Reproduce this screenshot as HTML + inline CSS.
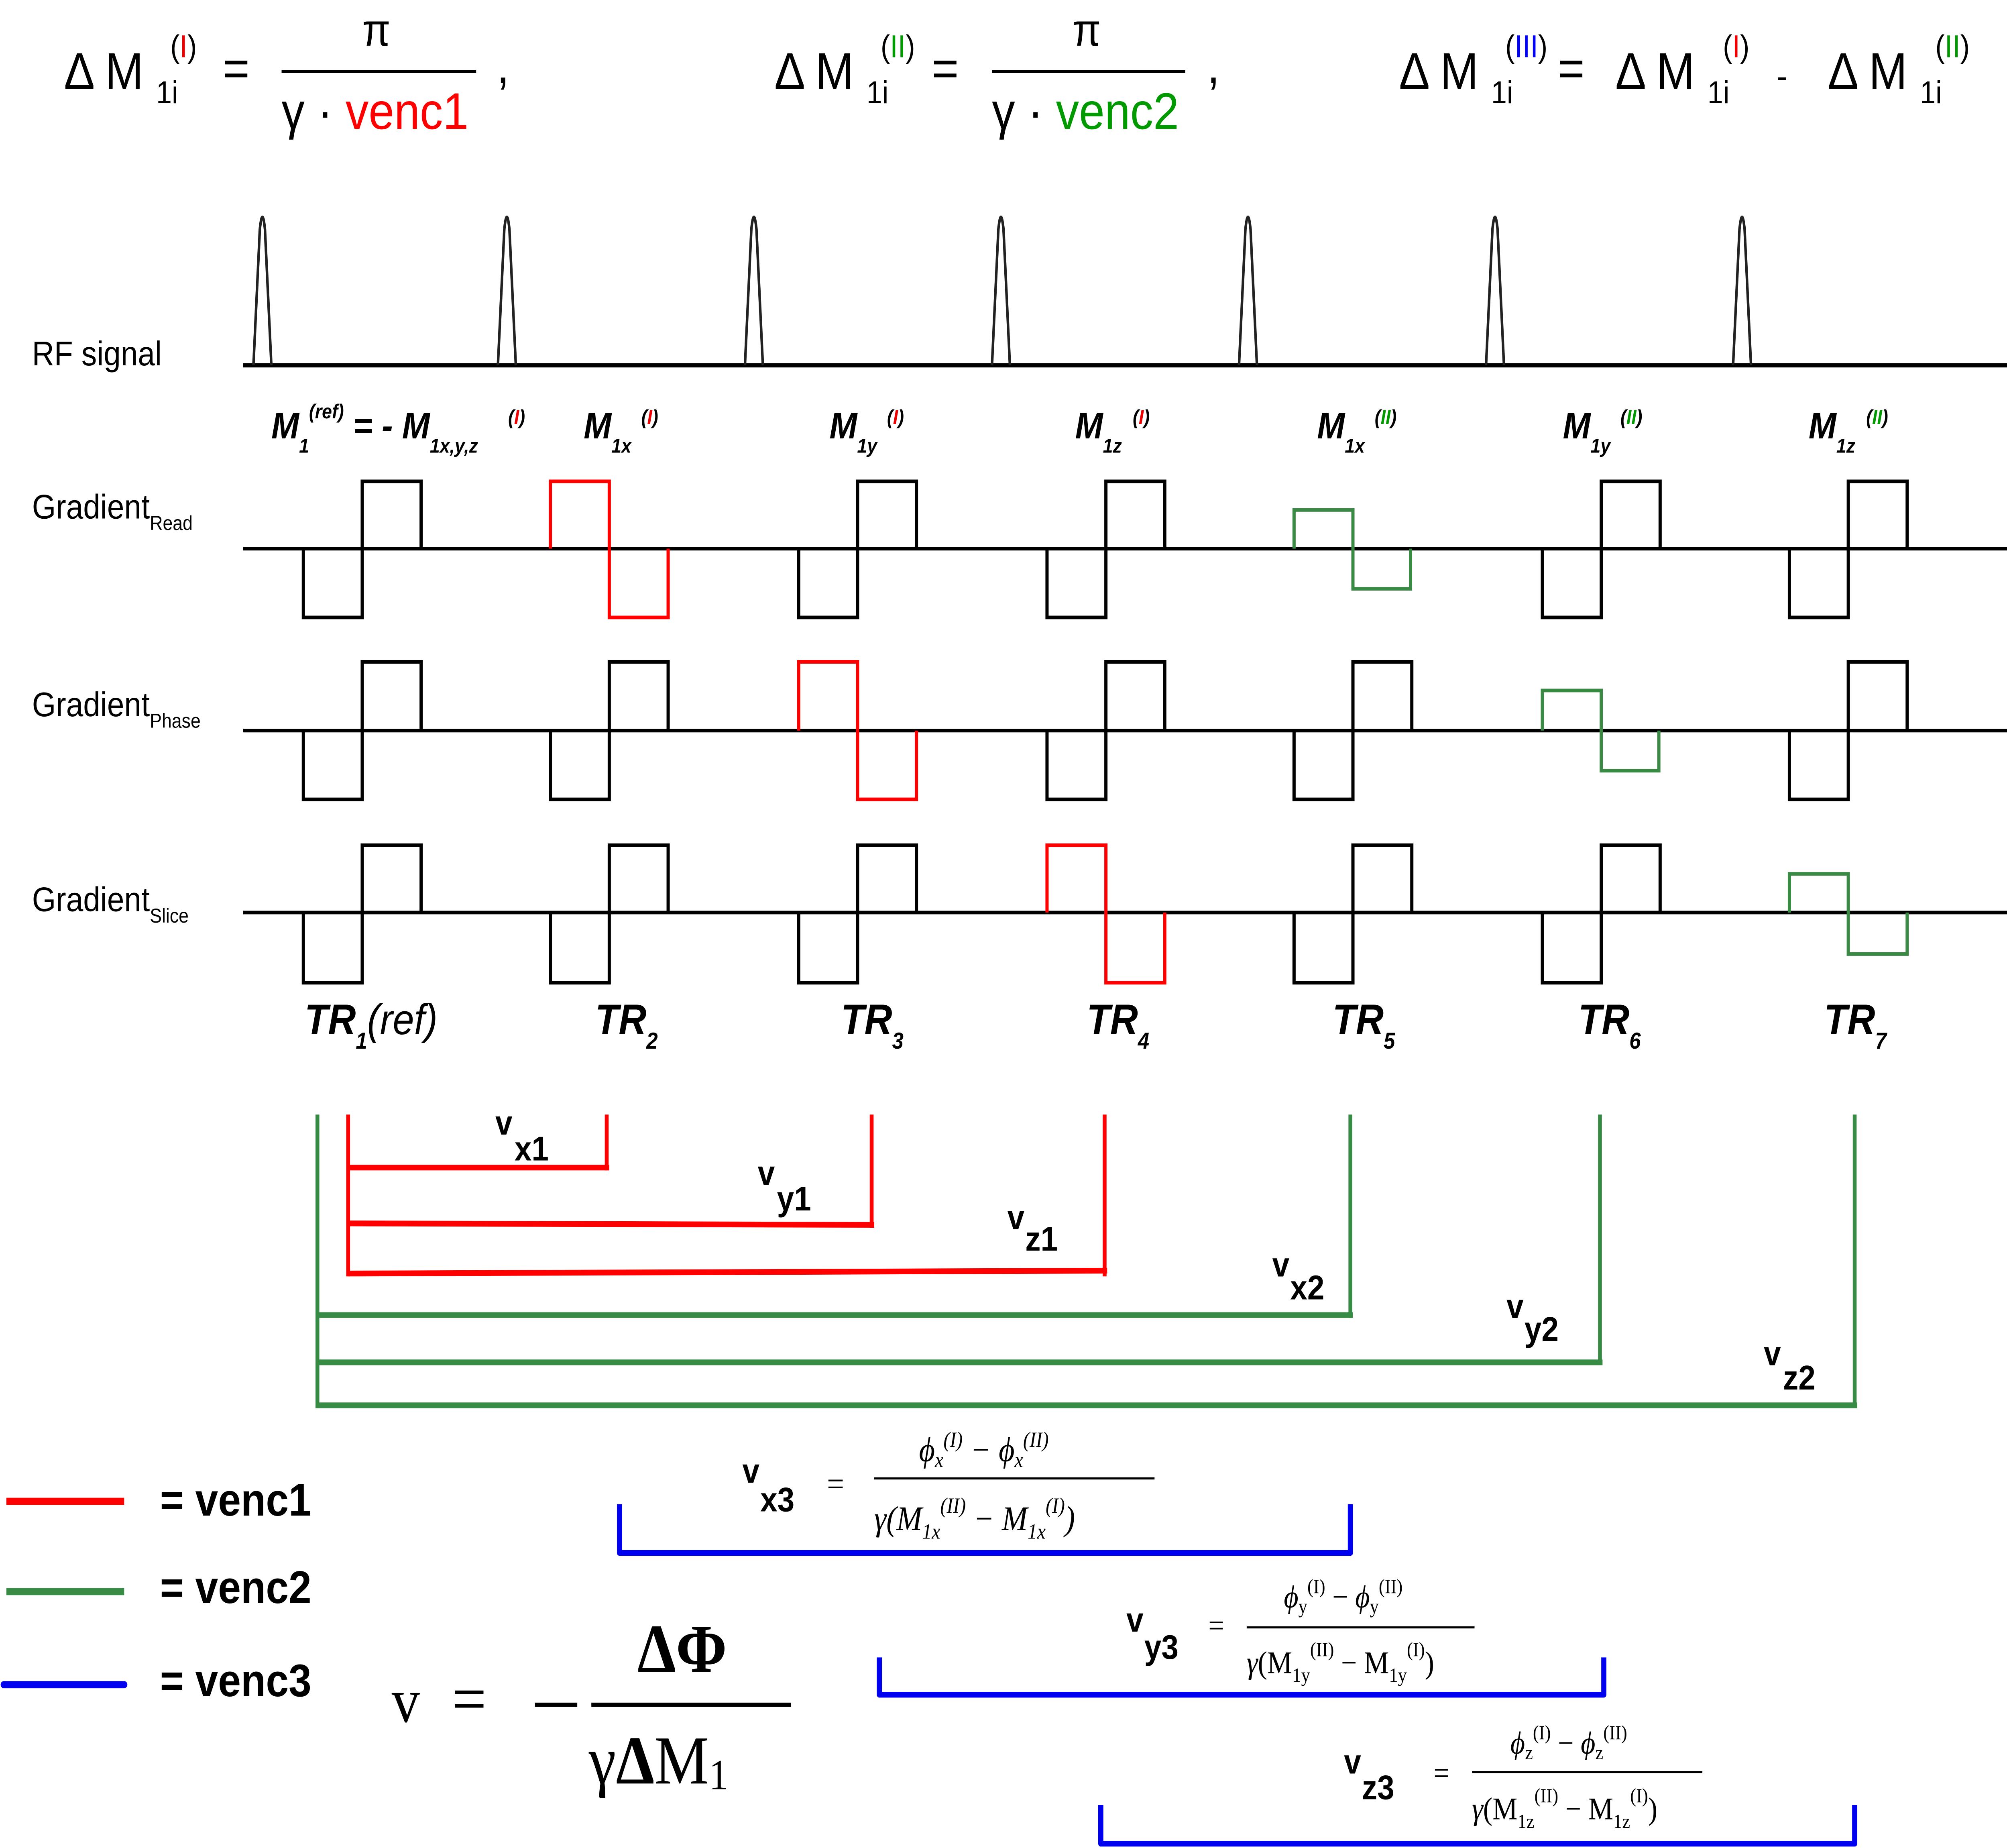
<!DOCTYPE html>
<html><head><meta charset="utf-8"><style>
html,body{margin:0;padding:0;background:#fff;overflow:hidden;width:100%;height:100%;}
svg{display:block;position:fixed;left:0;top:0;width:100vw;height:100vh;}
text{font-family:"Liberation Sans","DejaVu Sans",sans-serif;}
.s{font-family:"Liberation Serif","DejaVu Serif",serif;}
</style></head><body>
<svg viewBox="0 0 1568 1290" preserveAspectRatio="none" xmlns="http://www.w3.org/2000/svg">
<rect width="1568" height="1290" fill="#fff"/>
<g font-size="36" fill="#000">
 <text x="50" y="62">Δ M</text><text x="122" y="72" font-size="22">1i</text>
 <text x="133" y="40" font-size="22">(<tspan fill="#e00">I</tspan>)</text>
 <text x="174" y="60">=</text>
 <text x="283" y="32" font-size="32">π</text>
 <line x1="220" y1="50" x2="372" y2="50" stroke="#000" stroke-width="2"/>
 <text x="220" y="90">γ · <tspan fill="#f00">venc1</tspan></text>
 <text x="388" y="58">,</text>

 <text x="605" y="62">Δ M</text><text x="677" y="72" font-size="22">1i</text>
 <text x="688" y="40" font-size="22">(<tspan fill="#090">II</tspan>)</text>
 <text x="728" y="60">=</text>
 <text x="838" y="32" font-size="32">π</text>
 <line x1="775" y1="50" x2="926" y2="50" stroke="#000" stroke-width="2"/>
 <text x="775" y="90">γ · <tspan fill="#090">venc2</tspan></text>
 <text x="943" y="58">,</text>

 <text x="1093" y="62">Δ M</text><text x="1165" y="72" font-size="22">1i</text>
 <text x="1176" y="40" font-size="22">(<tspan fill="#00f">III</tspan>)</text>
 <text x="1217" y="60">=</text>
 <text x="1262" y="62">Δ M</text><text x="1334" y="72" font-size="22">1i</text>
 <text x="1346" y="40" font-size="22">(<tspan fill="#e00">I</tspan>)</text>
 <text x="1388" y="62" font-size="26">-</text>
 <text x="1428" y="62">Δ M</text><text x="1500" y="72" font-size="22">1i</text>
 <text x="1512" y="40" font-size="22">(<tspan fill="#090">II</tspan>)</text>
</g>
<text x="25" y="255" font-size="24">RF signal</text>
<line x1="190" y1="255" x2="1568" y2="255" stroke="#000" stroke-width="3"/>
<g fill="none" stroke="#222" stroke-width="2">
 <path d="M198 255 L203 160 Q205 143 207 160 L212 255"/>
 <path d="M389 255 L394 160 Q396 143 398 160 L403 255"/>
 <path d="M582 255 L587 160 Q589 143 591 160 L596 255"/>
 <path d="M775 255 L780 160 Q782 143 784 160 L789 255"/>
 <path d="M968 255 L973 160 Q975 143 977 160 L982 255"/>
 <path d="M1161 255 L1166 160 Q1168 143 1170 160 L1175 255"/>
 <path d="M1354 255 L1359 160 Q1361 143 1363 160 L1368 255"/>
</g>
<g font-size="26" font-weight="bold" font-style="italic">
 <text x="212" y="306">M<tspan font-size="14" dy="10">1</tspan><tspan font-size="14" dy="-24">(ref)</tspan><tspan dy="14" font-size="26"> = - M</tspan><tspan font-size="14" dy="10">1x,y,z</tspan></text>
 <text x="397" y="296" font-size="14">(<tspan fill="#e00">I</tspan>)</text>
 <text x="456" y="306">M<tspan font-size="14" dy="10">1x</tspan></text><text x="501" y="296" font-size="14">(<tspan fill="#e00">I</tspan>)</text>
 <text x="648" y="306">M<tspan font-size="14" dy="10">1y</tspan></text><text x="693" y="296" font-size="14">(<tspan fill="#e00">I</tspan>)</text>
 <text x="840" y="306">M<tspan font-size="14" dy="10">1z</tspan></text><text x="885" y="296" font-size="14">(<tspan fill="#e00">I</tspan>)</text>
 <text x="1029" y="306">M<tspan font-size="14" dy="10">1x</tspan></text><text x="1074" y="296" font-size="14">(<tspan fill="#090">II</tspan>)</text>
 <text x="1221" y="306">M<tspan font-size="14" dy="10">1y</tspan></text><text x="1266" y="296" font-size="14">(<tspan fill="#090">II</tspan>)</text>
 <text x="1413" y="306">M<tspan font-size="14" dy="10">1z</tspan></text><text x="1458" y="296" font-size="14">(<tspan fill="#090">II</tspan>)</text>
</g>
<g font-size="24">
 <text x="25" y="362">Gradient<tspan font-size="14" dy="8">Read</tspan></text>
 <text x="25" y="500">Gradient<tspan font-size="14" dy="8">Phase</tspan></text>
 <text x="25" y="636">Gradient<tspan font-size="14" dy="8">Slice</tspan></text>
</g>
<g stroke-width="2.5" fill="none" stroke="#000">
 <line x1="190" y1="383" x2="1568" y2="383"/>
 <line x1="190" y1="510" x2="1568" y2="510"/>
 <line x1="190" y1="637" x2="1568" y2="637"/>
 <path d="M237 383 V431 H283 V336 H329 V383"/>
 <path d="M430 383 V336 H476 V431 H522 V383" stroke="#f00"/>
 <path d="M624 383 V431 H670 V336 H716 V383"/>
 <path d="M818 383 V431 H864 V336 H910 V383"/>
 <path d="M1011 383 V356 H1057 V411 H1102 V383" stroke="#3a8a45"/>
 <path d="M1205 383 V431 H1251 V336 H1297 V383"/>
 <path d="M1398 383 V431 H1444 V336 H1490 V383"/>
 <path d="M237 510 V558 H283 V462 H329 V510"/>
 <path d="M430 510 V558 H476 V462 H522 V510"/>
 <path d="M624 510 V462 H670 V558 H716 V510" stroke="#f00"/>
 <path d="M818 510 V558 H864 V462 H910 V510"/>
 <path d="M1011 510 V558 H1057 V462 H1103 V510"/>
 <path d="M1205 510 V482 H1251 V538 H1296 V510" stroke="#3a8a45"/>
 <path d="M1398 510 V558 H1444 V462 H1490 V510"/>
 <path d="M237 637 V686 H283 V590 H329 V637"/>
 <path d="M430 637 V686 H476 V590 H522 V637"/>
 <path d="M624 637 V686 H670 V590 H716 V637"/>
 <path d="M818 637 V590 H864 V686 H910 V637" stroke="#f00"/>
 <path d="M1011 637 V686 H1057 V590 H1103 V637"/>
 <path d="M1205 637 V686 H1251 V590 H1297 V637"/>
 <path d="M1398 637 V610 H1444 V666 H1490 V637" stroke="#3a8a45"/>
</g>
<g font-size="30" font-style="italic" font-weight="bold">
 <text x="238" y="722">TR<tspan font-size="16" dy="10">1</tspan><tspan font-weight="normal" dy="-10" font-size="30">(ref)</tspan></text>
 <text x="465" y="722">TR<tspan font-size="16" dy="10">2</tspan></text>
 <text x="657" y="722">TR<tspan font-size="16" dy="10">3</tspan></text>
 <text x="849" y="722">TR<tspan font-size="16" dy="10">4</tspan></text>
 <text x="1041" y="722">TR<tspan font-size="16" dy="10">5</tspan></text>
 <text x="1233" y="722">TR<tspan font-size="16" dy="10">6</tspan></text>
 <text x="1425" y="722">TR<tspan font-size="16" dy="10">7</tspan></text>
</g>
<g stroke="#378b44" fill="none">
 <g stroke-width="3"><line x1="248" y1="778" x2="248" y2="983"/><line x1="1055" y1="778" x2="1055" y2="920"/><line x1="1250" y1="778" x2="1250" y2="953"/><line x1="1449" y1="778" x2="1449" y2="983"/></g>
 <g stroke-width="4"><line x1="248" y1="918" x2="1057" y2="918"/><line x1="248" y1="951" x2="1252" y2="951"/><line x1="248" y1="981" x2="1451" y2="981"/></g>
</g>
<g stroke="#f00" fill="none">
 <g stroke-width="3"><line x1="272" y1="778" x2="272" y2="891"/><line x1="474" y1="778" x2="474" y2="817"/><line x1="681" y1="778" x2="681" y2="857"/><line x1="863" y1="778" x2="863" y2="891"/></g>
 <g stroke-width="4"><line x1="272" y1="815" x2="476" y2="815"/><line x1="272" y1="854" x2="683" y2="855"/><line x1="272" y1="889" x2="865" y2="887"/></g>
</g>
<g font-size="24" font-weight="bold">
 <text x="387" y="792">v</text><text x="402" y="810">x1</text>
 <text x="592" y="827">v</text><text x="607" y="845">y1</text>
 <text x="787" y="858">v</text><text x="801" y="873">z1</text>
 <text x="994" y="891">v</text><text x="1008" y="907">x2</text>
 <text x="1177" y="920">v</text><text x="1191" y="936">y2</text>
 <text x="1378" y="953">v</text><text x="1393" y="970">z2</text>
</g>
<g stroke="#0000f0" fill="none" stroke-width="4" stroke-linejoin="round">
 <path d="M484 1050 V1084 H1055 V1050"/>
 <path d="M687 1157 V1183 H1253 V1157"/>
 <path d="M860 1260 V1287 H1449 V1260"/>
</g>
<g font-size="24" font-weight="bold">
 <text x="580" y="1035">v</text><text x="594" y="1055">x3</text>
 <text x="880" y="1139">v</text><text x="894" y="1158">y3</text>
 <text x="1050" y="1238">v</text><text x="1064" y="1256">z3</text>
</g>
<g font-size="24">
 <text x="646" y="1044" class="s">=</text>
 <line x1="683" y1="1032" x2="902" y2="1032" stroke="#000" stroke-width="1.5"/>
 <text x="718" y="1020" class="s" font-style="italic">ϕ<tspan font-size="15" dy="4">x</tspan><tspan font-size="15" dy="-14">(I)</tspan><tspan dy="10" font-size="24"> − ϕ</tspan><tspan font-size="15" dy="4">x</tspan><tspan font-size="15" dy="-14">(II)</tspan></text>
 <text x="683" y="1068" class="s" font-style="italic">γ(M<tspan font-size="15" dy="6">1x</tspan><tspan font-size="15" dy="-18">(II)</tspan><tspan dy="12" font-size="24"> − M</tspan><tspan font-size="15" dy="6">1x</tspan><tspan font-size="15" dy="-18">(I)</tspan><tspan dy="12" font-size="24">)</tspan></text>

 <text x="944" y="1142" class="s" font-size="22">=</text>
 <line x1="974" y1="1136" x2="1152" y2="1136" stroke="#000" stroke-width="1.5"/>
 <text x="1003" y="1122" class="s" font-size="22"><tspan font-style="italic">ϕ</tspan><tspan font-size="14" dy="4">y</tspan><tspan font-size="14" dy="-14">(I)</tspan><tspan dy="10" font-size="22"> − </tspan><tspan font-style="italic" font-size="22">ϕ</tspan><tspan font-size="14" dy="4">y</tspan><tspan font-size="14" dy="-14">(II)</tspan></text>
 <text x="974" y="1168" class="s" font-size="22"><tspan font-style="italic">γ</tspan>(M<tspan font-size="14" dy="6">1y</tspan><tspan font-size="14" dy="-18">(II)</tspan><tspan dy="12" font-size="22"> − M</tspan><tspan font-size="14" dy="6">1y</tspan><tspan font-size="14" dy="-18">(I)</tspan><tspan dy="12" font-size="22">)</tspan></text>

 <text x="1120" y="1245" class="s" font-size="22">=</text>
 <line x1="1150" y1="1237" x2="1330" y2="1237" stroke="#000" stroke-width="1.5"/>
 <text x="1180" y="1224" class="s" font-size="22"><tspan font-style="italic">ϕ</tspan><tspan font-size="14" dy="4">z</tspan><tspan font-size="14" dy="-14">(I)</tspan><tspan dy="10" font-size="22"> − </tspan><tspan font-style="italic" font-size="22">ϕ</tspan><tspan font-size="14" dy="4">z</tspan><tspan font-size="14" dy="-14">(II)</tspan></text>
 <text x="1150" y="1270" class="s" font-size="22"><tspan font-style="italic">γ</tspan>(M<tspan font-size="14" dy="6">1z</tspan><tspan font-size="14" dy="-18">(II)</tspan><tspan dy="12" font-size="22"> − M</tspan><tspan font-size="14" dy="6">1z</tspan><tspan font-size="14" dy="-18">(I)</tspan><tspan dy="12" font-size="22">)</tspan></text>
</g>
<line x1="5" y1="1048" x2="97" y2="1048" stroke="#f00" stroke-width="5"/>
<line x1="5" y1="1111" x2="97" y2="1111" stroke="#378b44" stroke-width="5"/>
<line x1="3" y1="1176" x2="97" y2="1176" stroke="#0000f0" stroke-width="5" stroke-linecap="round"/>
<g font-size="32" font-weight="bold">
 <text x="125" y="1058">= venc1</text>
 <text x="125" y="1119">= venc2</text>
 <text x="125" y="1184">= venc3</text>
</g>
<g font-size="44">
 <text x="306" y="1202" class="s">v</text>
 <text x="353" y="1202" class="s" font-size="48">=</text>
 <line x1="418" y1="1190" x2="451" y2="1190" stroke="#000" stroke-width="3"/>
 <line x1="462" y1="1190" x2="618" y2="1190" stroke="#000" stroke-width="3"/>
 <text x="498" y="1167" class="s" font-size="48" font-weight="bold">ΔΦ</text>
 <text x="460" y="1245" class="s" font-size="48">γ<tspan font-weight="bold">Δ</tspan>M<tspan font-size="30" dy="4">1</tspan></text>
</g>
</svg>
</body></html>
